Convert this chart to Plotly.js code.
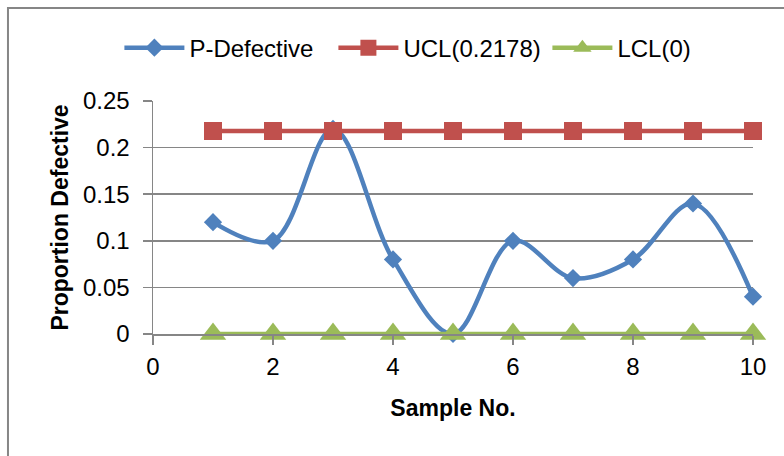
<!DOCTYPE html>
<html>
<head>
<meta charset="utf-8">
<script src="https://cdn.plot.ly/plotly-3.0.1.min.js"></script>
<style>html,body{margin:0;padding:0;background:#fff;}#chart{width:784px;height:456px;}</style>
</head>
<body>
<div id="chart"></div>
<script>
var sampleNo = [1, 2, 3, 4, 5, 6, 7, 8, 9, 10];
var pDefective = [0.12, 0.10, 0.22, 0.08, 0.0, 0.10, 0.06, 0.08, 0.14, 0.04];
var ucl = [0.2178, 0.2178, 0.2178, 0.2178, 0.2178, 0.2178, 0.2178, 0.2178, 0.2178, 0.2178];
var lcl = [0, 0, 0, 0, 0, 0, 0, 0, 0, 0];
var seriesNames = ['P-Defective', 'UCL(0.2178)', 'LCL(0)'];

var FONT = 'Liberation Sans, Arial, sans-serif';
var traces = [
  {x: sampleNo, y: pDefective, name: seriesNames[0], type: 'scatter', mode: 'lines+markers',
   line: {color: '#4F81BD', width: 4.5, shape: 'spline', smoothing: 1},
   marker: {symbol: 'diamond', size: 14, color: '#4F81BD'}, cliponaxis: false},
  {x: sampleNo, y: ucl, name: seriesNames[1], type: 'scatter', mode: 'lines+markers',
   line: {color: '#C0504D', width: 4.5},
   marker: {symbol: 'square', size: 18, color: '#C0504D'}, cliponaxis: false},
  {x: sampleNo, y: lcl, name: seriesNames[2], type: 'scatter', mode: 'lines+markers',
   line: {color: '#9BBB59', width: 4.5},
   marker: {symbol: 'triangle-up', size: 23, color: '#9BBB59'}, cliponaxis: false}
];

var layout = {
  width: 784, height: 456,
  margin: {l: 153, r: 31, t: 101, b: 122},
  paper_bgcolor: '#ffffff', plot_bgcolor: '#ffffff',
  font: {family: FONT, size: 24, color: '#000'},
  showlegend: true,
  legend: {orientation: 'h', x: -0.056, xanchor: 'left', y: 1.227, yanchor: 'middle',
           font: {family: FONT, size: 24, color: '#000'}, itemwidth: 60,
           entrywidth: 139, entrywidthmode: 'pixels', bgcolor: 'rgba(0,0,0,0)'},
  xaxis: {range: [0, 10], dtick: 2, tick0: 0, showgrid: false, zeroline: false,
          showline: true, linecolor: '#868686', linewidth: 1.5,
          ticks: 'outside', ticklen: 9, tickcolor: '#868686', tickwidth: 1.5,
          tickfont: {family: FONT, size: 24}, ticklabelstandoff: 2,
          title: {text: '<b>Sample No.</b>', font: {family: FONT, size: 23}, standoff: 20}},
  yaxis: {range: [0, 0.25], dtick: 0.05, tick0: 0, showgrid: true, gridcolor: '#868686', gridwidth: 1.5,
          zeroline: false, showline: true, linecolor: '#868686', linewidth: 1.5,
          ticks: 'outside', ticklen: 9, tickcolor: '#868686', tickwidth: 1.5,
          tickfont: {family: FONT, size: 24}, ticklabelstandoff: 8,
          title: {text: '<b>Proportion Defective</b>', font: {family: FONT, size: 23}, standoff: 8}},
  shapes: [{type: 'rect', xref: 'paper', yref: 'paper', x0: -0.2417, x1: 1.2, y0: 1.399, y1: -0.7,
            line: {color: '#868686', width: 2}, fillcolor: 'rgba(0,0,0,0)', layer: 'below'}]
};

Plotly.newPlot('chart', traces, layout, {displayModeBar: false, staticPlot: true});
</script>
</body>
</html>
